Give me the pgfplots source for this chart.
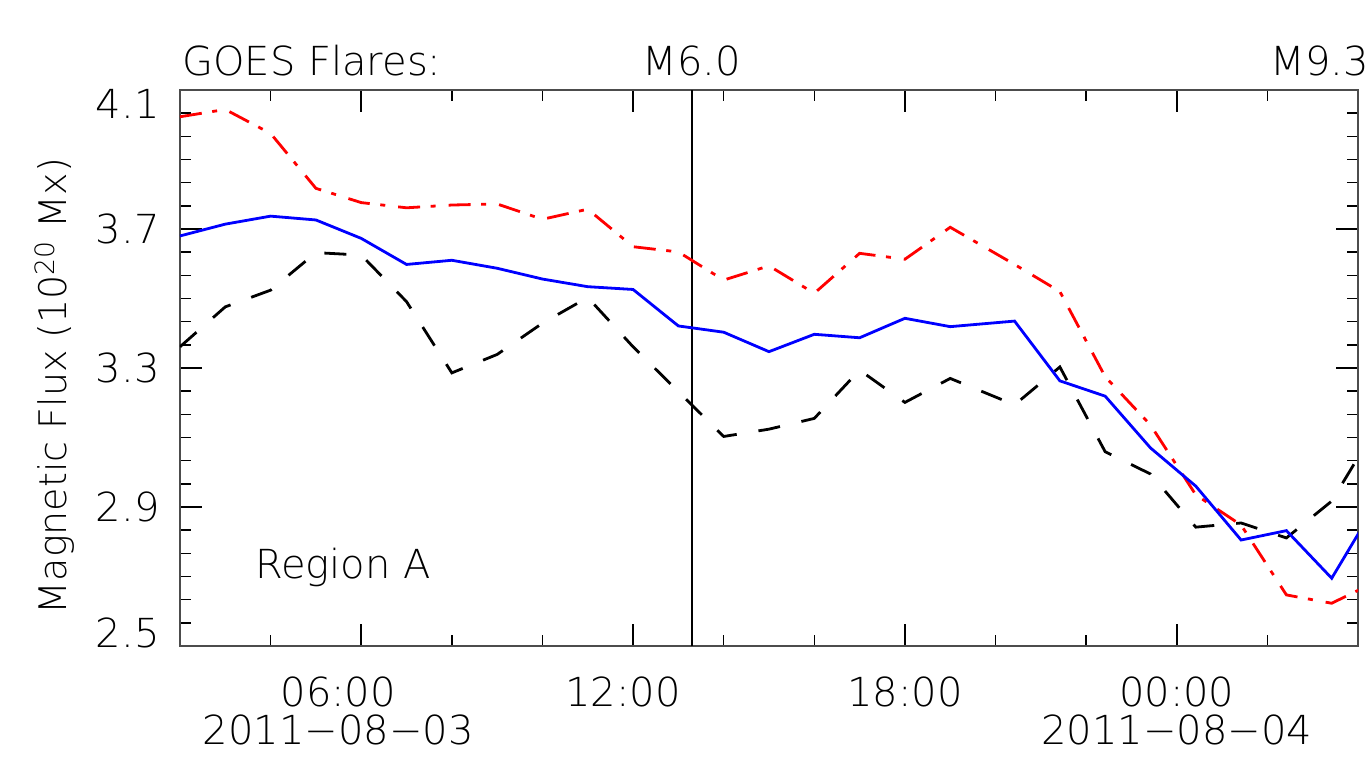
\documentclass[border=0pt]{standalone}
\usepackage{fontspec}
\setmainfont{DejaVu Sans ExtraLight}
\usepackage{pgfplots}
\pgfplotsset{compat=1.18}
\usetikzlibrary{calc}

\pgfplotstableread{
x y
2 3.680
3 3.714
4 3.737
5 3.726
6 3.673
7 3.598
8 3.610
9 3.587
10 3.556
11 3.534
12 3.526
13 3.421
14 3.403
15 3.347
16 3.397
17 3.387
18 3.443
19 3.419
20.42 3.435
21.42 3.263
22.42 3.219
23.42 3.070
24.42 2.960
25.42 2.805
26.42 2.832
27.42 2.695
28.42 2.913
}\bluedata

\pgfplotstableread{
x y
2 3.361
3 3.476
4 3.524
5 3.632
6 3.625
7 3.491
8 3.286
9 3.339
10 3.429
11 3.503
12 3.361
13 3.232
14 3.103
15 3.124
16 3.155
17 3.294
18 3.201
19 3.270
20.42 3.194
21.42 3.303
22.42 3.059
23.42 2.995
24.42 2.842
25.42 2.854
26.42 2.811
27.42 2.917
28.42 3.133
}\blackdata

\pgfplotstableread{
x y
2 4.023
3 4.044
4 3.975
5 3.817
6 3.776
7 3.761
8 3.769
9 3.772
10 3.728
11 3.757
12 3.649
13 3.634
14 3.553
15 3.594
16 3.515
17 3.630
18 3.613
19 3.705
20.42 3.598
21.42 3.520
22.42 3.275
23.42 3.136
24.42 2.935
25.42 2.848
26.42 2.647
27.42 2.623
28.42 2.687
}\reddata

\begin{document}
\fontsize{20}{19}\selectfont
\begin{tikzpicture}
\path[use as bounding box] (-90pt,-55pt) rectangle (596pt,323pt);
\begin{axis}[
  at={(0,0)}, anchor=south west,
  scale only axis, width=589pt, height=278pt,
  xmin=2, xmax=28, ymin=2.5, ymax=4.1,
  clip mode=individual,
  xtick={6,12,18,24},
  xticklabels={{\hspace*{-23pt}06:00\\\hspace*{-23pt}2011−08−03},{\hspace*{-10pt}12:00},{18:00},{00:00\\2011−08−04}},
  minor xtick={2,4,8,10,14,16,20,22,26,28},
  ytick={2.5,2.9,3.3,3.7,4.1},
  yticklabels={{\raisebox{6.5pt}[\height][\depth]{2.5}},{2.9},{3.3},{3.7},{\raisebox{-7pt}[\height][\depth]{4.1}}},
  minor y tick num=5,
  /pgf/number format/assume math mode=true,
  xticklabel style={align=center, inner sep=0pt, anchor=north, yshift=-15pt, font=\fontsize{20}{19}\selectfont},
  yticklabel style={inner sep=0pt, anchor=east, xshift=-10pt},
  major tick length=11pt, minor tick length=5.5pt,
  axis line style={line width=1pt, black!70},
  every tick/.style={line width=0.8pt, black},
  tick align=inside,
]
\addplot[black, line width=1.3pt] coordinates {(13.3,2.5) (13.3,4.1)};
\addplot[black, line width=1.4pt, dash pattern=on 11pt off 11pt] table[x=x,y=y] {\blackdata};
\addplot[red, line width=1.4pt, dash pattern=on 11pt off 5.3pt on 2.5pt off 6.5pt] table[x=x,y=y] {\reddata};
\addplot[blue, line width=1.4pt] table[x=x,y=y] {\bluedata};

\node[anchor=base west, inner sep=0pt] at ($(rel axis cs:0,1)+(1pt,7.5pt)$) {GOES Flares:};
\node[anchor=base, inner sep=0pt, yshift=7.5pt] at (axis cs:13.3,4.1) {M6.0};
\node[anchor=base east, inner sep=0pt] at ($(rel axis cs:1,1)+(5.5pt,7.5pt)$) {M9.3};
\node[anchor=base west, inner sep=0pt] at (axis cs:3.65,2.693) {Region A};
\node[rotate=90, anchor=base, inner sep=0pt, font=\fontsize{19}{20}\selectfont] at ($(rel axis cs:0,0.5)+(-56.5pt,-9pt)$) {Magnetic Flux (10\textsuperscript{20} Mx)};
\end{axis}
\end{tikzpicture}
\end{document}
